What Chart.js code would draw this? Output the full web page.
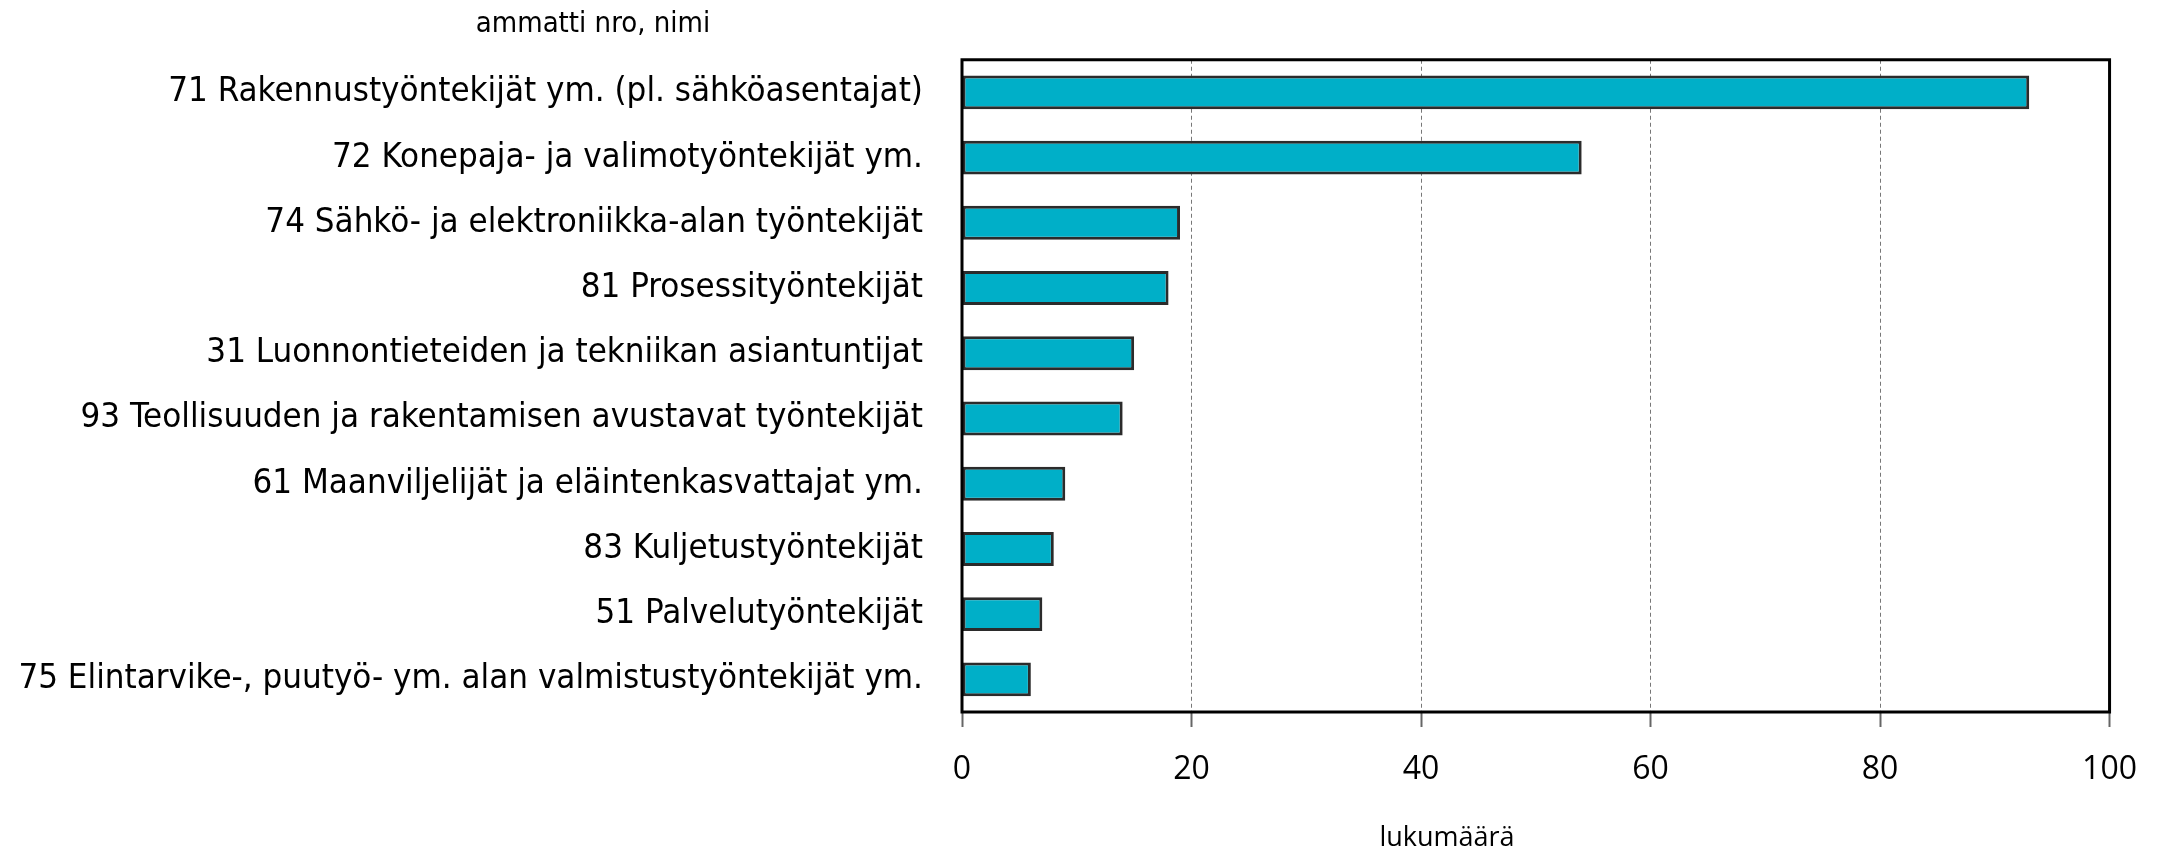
<!DOCTYPE html>
<html>
<head>
<meta charset="utf-8">
<script src="https://cdn.jsdelivr.net/npm/chart.js@4/dist/chart.umd.min.js"></script>
<style>
  html, body { margin: 0; padding: 0; background: #fff; }
  #wrap { width: 2161px; height: 855px; }
</style>
</head>
<body>
<div id="wrap"><canvas id="chart" width="2161" height="855"></canvas></div>
<script>
const occupations = [
  '71 Rakennustyöntekijät ym. (pl. sähköasentajat)',
  '72 Konepaja- ja valimotyöntekijät ym.',
  '74 Sähkö- ja elektroniikka-alan työntekijät',
  '81 Prosessityöntekijät',
  '31 Luonnontieteiden ja tekniikan asiantuntijat',
  '93 Teollisuuden ja rakentamisen avustavat työntekijät',
  '61 Maanviljelijät ja eläintenkasvattajat ym.',
  '83 Kuljetustyöntekijät',
  '51 Palvelutyöntekijät',
  '75 Elintarvike-, puutyö- ym. alan valmistustyöntekijät ym.'
];
const counts = [93, 54, 19, 18, 15, 14, 9, 8, 7, 6];
const xTicks = [0, 20, 40, 60, 80, 100];

const labelFont = "'Liberation Sans Narrow', 'DejaVu Sans Condensed', sans-serif";
const tickFont = "'Open Sans', 'Noto Sans', sans-serif";

// frame around the plot + the two free-standing captions
const framePlugin = {
  id: 'frame',
  afterDraw(chart) {
    const { ctx, chartArea: a } = chart;
    ctx.save();
    ctx.strokeStyle = '#000';
    ctx.lineWidth = 3;
    ctx.strokeRect(a.left, a.top, a.right - a.left, a.bottom - a.top);
    ctx.fillStyle = '#000';
    ctx.textAlign = 'center';
    ctx.textBaseline = 'middle';
    ctx.font = "29px " + labelFont;
    ctx.fillText('ammatti nro, nimi', 593, 24);
    ctx.font = "27px " + tickFont;
    ctx.fillText('lukumäärä', 1447, 838);
    ctx.restore();
  }
};

new Chart(document.getElementById('chart'), {
  type: 'bar',
  data: {
    labels: occupations,
    datasets: [{
      data: counts,
      backgroundColor: '#00AFC8',
      borderColor: '#2b2b2b',
      borderWidth: 3,
      borderSkipped: false,
      barPercentage: 0.52,
      categoryPercentage: 1
    }]
  },
  options: {
    indexAxis: 'y',
    responsive: false,
    animation: false,
    layout: { padding: { top: 58, right: 50, bottom: 0, left: 0 } },
    plugins: {
      legend: { display: false },
      tooltip: { enabled: false }
    },
    scales: {
      x: {
        min: 0,
        max: 100,
        afterBuildTicks: (scale) => { scale.ticks = xTicks.map(v => ({ value: v })); },
        afterFit: (scale) => { scale.height = 143; },
        border: { display: false, dash: [4, 3] },
        grid: {
          color: '#777',
          lineWidth: 1,
          drawTicks: true,
          tickLength: 15,
          tickColor: '#666',
          tickWidth: 2,
          tickBorderDash: []
        },
        ticks: {
          color: '#000',
          padding: 24,
          font: { family: tickFont, size: 32 }
        }
      },
      y: {
        afterFit: (scale) => { scale.width = 962; },
        border: { display: false },
        grid: { display: false, drawTicks: false },
        ticks: {
          color: '#000',
          padding: 39,
          font: { family: labelFont, size: 34.6 }
        }
      }
    }
  },
  plugins: [framePlugin]
});
</script>
</body>
</html>
